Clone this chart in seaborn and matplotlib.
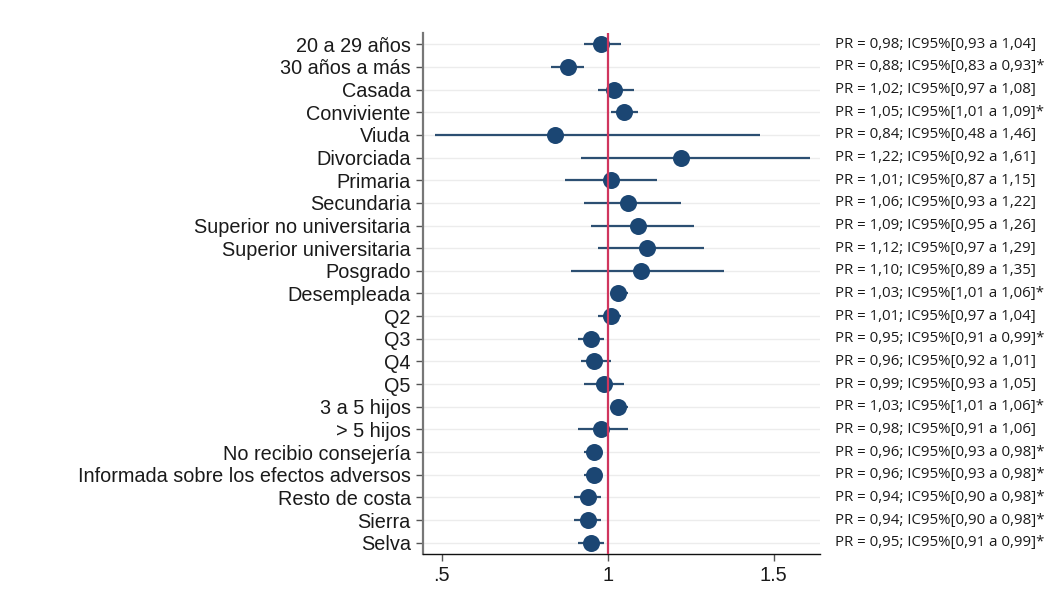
import pandas as pd
import matplotlib.pyplot as plt
import matplotlib.transforms as mtransforms
import seaborn as sns

labels = ['20 a 29 años', '30 años a más', 'Casada', 'Conviviente', 'Viuda',
          'Divorciada', 'Primaria', 'Secundaria', 'Superior no universitaria',
          'Superior universitaria', 'Posgrado', 'Desempleada', 'Q2', 'Q3', 'Q4',
          'Q5', '3 a 5 hijos', '> 5 hijos', 'No recibio consejería',
          'Informada sobre los efectos adversos', 'Resto de costa', 'Sierra', 'Selva']
pr = [0.98, 0.88, 1.02, 1.05, 0.84, 1.22, 1.01, 1.06, 1.09, 1.12, 1.10, 1.03,
      1.01, 0.95, 0.96, 0.99, 1.03, 0.98, 0.96, 0.96, 0.94, 0.94, 0.95]
lo = [0.93, 0.83, 0.97, 1.01, 0.48, 0.92, 0.87, 0.93, 0.95, 0.97, 0.89, 1.01,
      0.97, 0.91, 0.92, 0.93, 1.01, 0.91, 0.93, 0.93, 0.90, 0.90, 0.91]
hi = [1.04, 0.93, 1.08, 1.09, 1.46, 1.61, 1.15, 1.22, 1.26, 1.29, 1.35, 1.06,
      1.04, 0.99, 1.01, 1.05, 1.06, 1.06, 0.98, 0.98, 0.98, 0.98, 0.99]
signif = [False, True, False, True, False, False, False, False, False, False,
          False, True, False, True, False, False, True, False, True, True,
          True, True, True]

df = pd.DataFrame({'label': labels, 'pr': pr, 'lo': lo, 'hi': hi})
df['row'] = range(len(df))

sns.set_style('white')
plt.rcParams['font.family'] = ['Liberation Sans', 'DejaVu Sans']

fig = plt.figure(figsize=(10.5, 6.05), dpi=100)
ax = fig.add_axes([0.403, 0.0843, 0.378, 0.8612])

navy = '#1b4673'
for r in df['row']:
    ax.axhline(r, color='#ececec', lw=1.0, zorder=0)
ax.hlines(df['row'], df['lo'], df['hi'], color='#2c4f72', lw=1.6, zorder=2)
sns.scatterplot(data=df, x='pr', y='row', color=navy, s=150, edgecolor=navy,
                linewidth=0, zorder=3, ax=ax)
ax.axvline(1, color='#d0365e', lw=1.6, zorder=4)

ax.set_xlim(0.444, 1.64)
ax.set_ylim(len(df) - 0.5, -0.5)
ax.set_yticks(df['row'])
ax.set_yticklabels(df['label'], fontsize=14.3, color='#1a1a1a')
ax.set_xticks([0.5, 1, 1.5])
ax.set_xticklabels(['.5', '1', '1.5'], fontsize=14.3, color='#1a1a1a')
ax.set_xlabel('')
ax.set_ylabel('')
ax.tick_params(axis='both', direction='out', length=5, width=1, colors='#555555',
               labelcolor='#1a1a1a', left=True, bottom=True, pad=4)
for s in ['top', 'right']:
    ax.spines[s].set_visible(False)
ax.spines['left'].set_color('#777777')
ax.spines['left'].set_linewidth(1.6)
ax.spines['bottom'].set_color('#111111')
ax.spines['bottom'].set_linewidth(1.0)

trans = mtransforms.blended_transform_factory(fig.transFigure, ax.transData)
for r, p, l, h, s in zip(df['row'], pr, lo, hi, signif):
    txt = 'PR = {}; IC95%[{} a {}]'.format(f'{p:.2f}'.replace('.', ','),
                                          f'{l:.2f}'.replace('.', ','),
                                          f'{h:.2f}'.replace('.', ','))
    if s:
        txt += '*'
    ax.text(0.795, r, txt, transform=trans, fontsize=10.8, family='Open Sans',
            color='#1a1a1a', va='center', ha='left', clip_on=False)

fig.savefig('out.png', dpi=100)
